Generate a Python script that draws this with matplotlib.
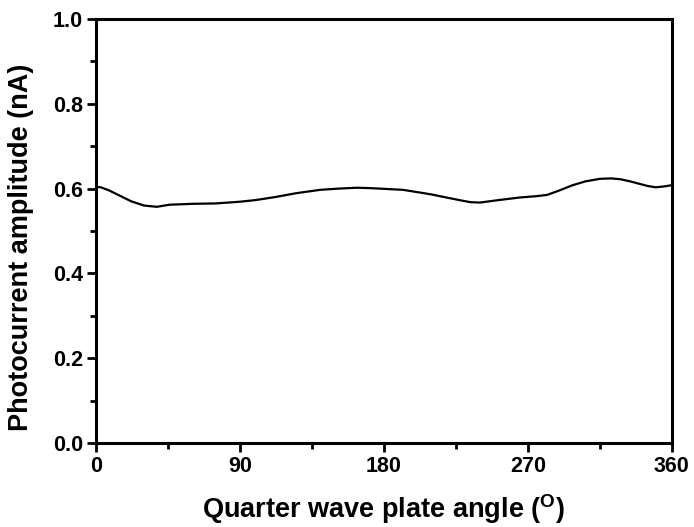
import matplotlib
matplotlib.use("Agg")
import matplotlib.pyplot as plt
from matplotlib.ticker import MultipleLocator

plt.rcParams['font.family'] = ['Liberation Sans', 'DejaVu Sans']
plt.rcParams['font.weight'] = 'bold'
plt.rcParams['mathtext.fontset'] = 'custom'
plt.rcParams['mathtext.rm'] = 'Liberation Sans'
plt.rcParams['mathtext.bf'] = 'Liberation Sans:bold'

angle = [0, 3, 8, 15, 22, 30, 38, 46, 60, 75, 90, 100, 112, 125, 140, 152,
         163, 172, 182, 192, 202, 210, 219, 227, 234, 240, 244, 252, 265,
         275, 282, 290, 298, 306, 315, 322, 328, 334, 340, 345, 350, 355, 360]
amplitude = [0.604, 0.603, 0.596, 0.583, 0.570, 0.560, 0.557, 0.562, 0.564,
             0.565, 0.569, 0.573, 0.580, 0.589, 0.597, 0.600, 0.602, 0.601,
             0.599, 0.597, 0.591, 0.586, 0.579, 0.573, 0.568, 0.567, 0.569,
             0.573, 0.579, 0.582, 0.585, 0.596, 0.608, 0.617, 0.623, 0.624,
             0.622, 0.617, 0.611, 0.606, 0.603, 0.605, 0.608]

xticks = [0, 90, 180, 270, 360]
yticks = [0.0, 0.2, 0.4, 0.6, 0.8, 1.0]

fig = plt.figure(figsize=(6.94, 5.27), dpi=100)
ax = fig.add_axes([0.1383, 0.1594, 0.8297, 0.8046])
ax.plot(angle, amplitude, color='black', lw=1.6)
ax.set_xlim(0, 360)
ax.set_ylim(0, 1.0)
ax.set_xticks(xticks)
ax.set_yticks(yticks)
ax.set_xticklabels([str(t) for t in xticks])
ax.set_yticklabels([f"{t:.1f}" for t in yticks])
ax.xaxis.set_minor_locator(MultipleLocator(45))
ax.yaxis.set_minor_locator(MultipleLocator(0.1))
for s in ax.spines.values():
    s.set_linewidth(2.2)
ax.tick_params(which='major', direction='out', length=6.5, width=2, labelsize=15.5, pad=3)
ax.tick_params(which='minor', direction='out', length=4.5, width=2)
ax.tick_params(top=False, right=False, which='both')
for lab in ax.get_xticklabels() + ax.get_yticklabels():
    lab.set_fontweight('bold')
ax.set_xlabel(r'Quarter wave plate angle ($^{\mathrm{O}}$)', fontsize=19.5, fontweight='bold')
ax.set_ylabel('Photocurrent amplitude (nA)', fontsize=19.5, fontweight='bold')
ax.xaxis.set_label_coords(0.5, -0.115)
ax.yaxis.set_label_coords(-0.108, 0.462)
fig.savefig('out.png', dpi=100)
